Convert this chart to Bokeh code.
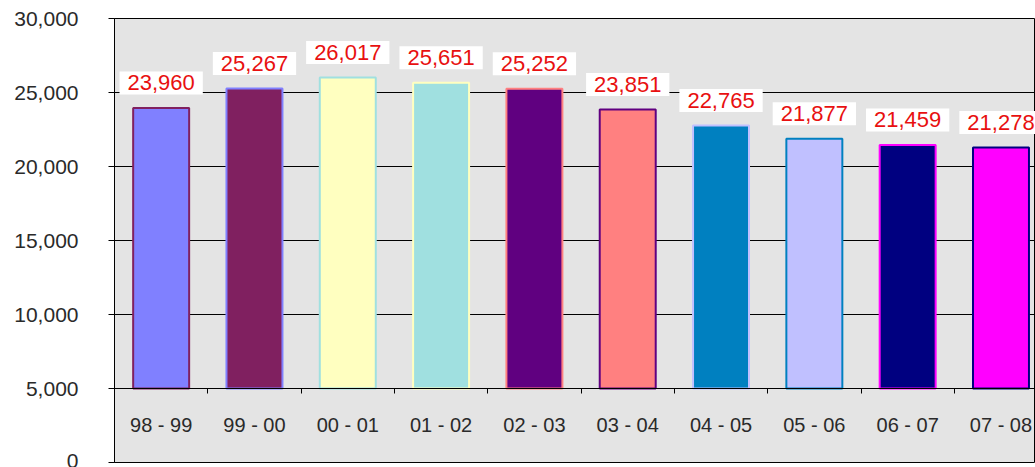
from bokeh.plotting import figure
from bokeh.models import (ColumnDataSource, Range1d, LinearAxis, FixedTicker,
                          NumeralTickFormatter, Grid)
from bokeh.core.properties import value
from bokeh.embed import file_html
from bokeh.resources import INLINE

categories = ["98 - 99", "99 - 00", "00 - 01", "01 - 02", "02 - 03",
              "03 - 04", "04 - 05", "05 - 06", "06 - 07", "07 - 08"]
enrolment = [23960, 25267, 26017, 25651, 25252, 23851, 22765, 21877, 21459, 21278]
fill_colors = ["#8080FF", "#802060", "#FFFFC0", "#A0E0E0", "#600080",
               "#FF8080", "#0080C0", "#C0C0FF", "#000080", "#FF00FF"]
line_colors = ["#802060", "#8080FF", "#A0E0E0", "#FFFFC0", "#FF8080",
               "#600080", "#C0C0FF", "#0080C0", "#FF00FF", "#000080"]
y_ticks = [0, 5000, 10000, 15000, 20000, 25000, 30000]
axis_cross = 5000

pos = list(range(len(categories)))
src = ColumnDataSource(dict(
    x=pos, top=enrolment, fill=fill_colors, line=line_colors,
    label=[f"{v:,}" for v in enrolment],
))

p = figure(width=1035, height=467, output_backend="svg", toolbar_location=None,
           x_range=Range1d(-0.5, 9.37), y_range=Range1d(0, 30000),
           x_axis_type=None, y_axis_type=None,
           min_border_left=114, min_border_right=0,
           min_border_top=18, min_border_bottom=5)
p.background_fill_color = "#e4e4e4"
p.border_fill_color = "white"
p.outline_line_color = "black"
p.outline_line_width = 1

# y axis
yaxis = LinearAxis(ticker=FixedTicker(ticks=y_ticks),
                   formatter=NumeralTickFormatter(format="0,0"))
yaxis.major_tick_out = 6
yaxis.major_tick_in = 0
yaxis.minor_tick_out = 0
yaxis.minor_tick_in = 0
yaxis.major_label_standoff = 30
yaxis.major_label_text_font = "Liberation Sans"
yaxis.major_label_text_font_size = "21px"
yaxis.major_label_text_color = "#2a2a2a"
yaxis.axis_line_color = "black"
p.add_layout(yaxis, "left")

ygrid = Grid(dimension=1, ticker=FixedTicker(ticks=y_ticks),
             grid_line_color="black", grid_line_width=1)
p.add_layout(ygrid, "center")

# category axis crossing at 5,000
xaxis = LinearAxis(fixed_location=axis_cross,
                   ticker=FixedTicker(ticks=pos,
                                      minor_ticks=[i - 0.5 for i in range(len(categories) + 1)]),
                   major_label_overrides={i: c for i, c in zip(pos, categories)})
xaxis.major_tick_out = 0
xaxis.major_tick_in = 0
xaxis.minor_tick_out = 5
xaxis.minor_tick_in = 0
xaxis.minor_tick_line_color = "black"
xaxis.axis_line_color = "black"
xaxis.major_label_standoff = 20
xaxis.major_label_text_font = "Liberation Sans"
xaxis.major_label_text_font_size = "20px"
xaxis.major_label_text_color = "#2a2a2a"
p.add_layout(xaxis, "below")

p.vbar(x="x", top="top", bottom=axis_cross, width=0.6, source=src,
       fill_color="fill", line_color="line", line_width=2)

p.text(x="x", y="top", text="label", source=src,
       text_align="center", text_baseline="middle", y_offset=-25,
       text_font=value("Liberation Sans"), text_font_size="22px",
       text_color="#e81010", background_fill_color="white",
       padding=[8, 4])

open("out.html", "w").write(file_html(p, INLINE))
